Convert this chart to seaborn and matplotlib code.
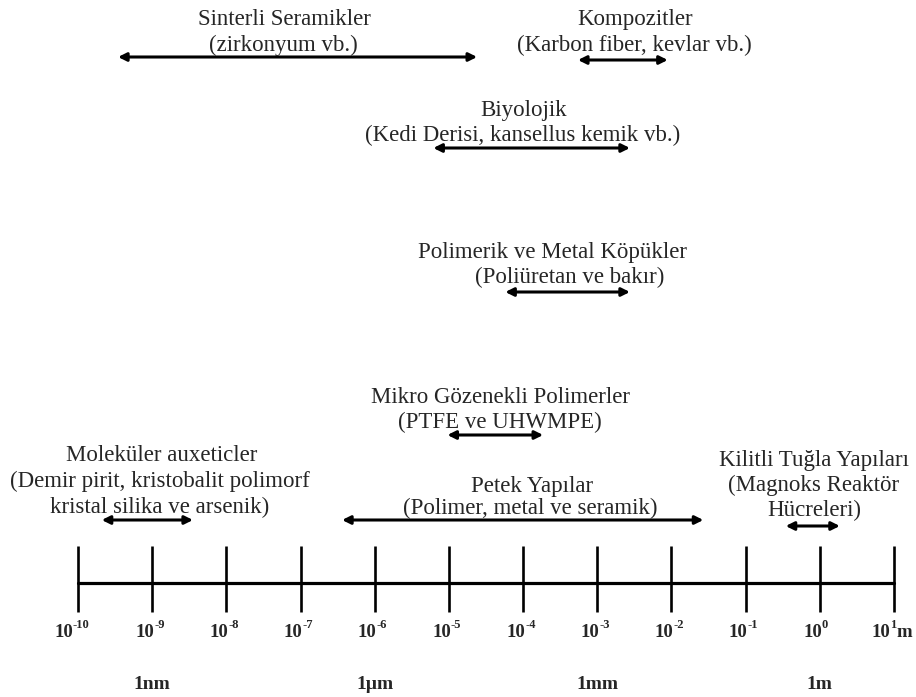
import matplotlib
matplotlib.use("Agg")
import matplotlib.pyplot as plt
import seaborn as sns

# length scale, exponents of ten (metres)
exponents = list(range(-10, 2))
exp_labels = [str(e) for e in exponents]
unit_exps = [-9, -6, -3, 0]
unit_labels = ["1nm", "1µm", "1mm", "1m"]

# material classes and the size range they cover (log10 m)
titles = [
    "Sinterli Seramikler",
    "Kompozitler",
    "Biyolojik",
    "Polimerik ve Metal Köpükler",
    "Mikro Gözenekli Polimerler",
    "Moleküler auxeticler",
    "Petek Yapılar",
    "Kilitli Tuğla Yapıları",
]
subtitles = [
    ["(zirkonyum vb.)"],
    ["(Karbon fiber, kevlar vb.)"],
    ["(Kedi Derisi, kansellus kemik vb.)"],
    ["(Poliüretan ve bakır)"],
    ["(PTFE ve UHWMPE)"],
    ["(Demir pirit, kristobalit polimorf", "kristal silika ve arsenik)"],
    ["(Polimer, metal ve seramik)"],
    ["(Magnoks Reaktör", "Hücreleri)"],
]
range_low = [-9.46, -3.26, -5.21, -4.24, -5.02, -9.68, -6.44, -0.46]
range_high = [-4.62, -2.05, -2.56, -2.56, -3.73, -8.45, -1.57, 0.27]

# layout: arrow rows and first text line centre (pixels), text centres (decades)
arrow_rows = [57, 60, 148, 292, 435, 520, 520, 526]
first_line = [17, 17, 108, 250, 395, 453, 484, 458]
line_gap = [26, 26, 25, 25, 25, 26, 22, 25]
title_x = [-7.22, -2.49, -3.99, -3.61, -4.30, -8.87, -3.88, -0.08]
sub_x = [-7.23, -2.50, -4.00, -3.37, -4.31, -8.90, -3.90, -0.08]

sns.set_style("white")
plt.rcParams["font.family"] = ["Liberation Serif", "DejaVu Serif"]

W, H = 916, 697
fig = plt.figure(figsize=(W / 100, H / 100), dpi=100)
ax = fig.add_axes([0, 0, 1, 1])
px = (894 - 78) / 11  # pixels per decade
ax.set_xlim(-10 - 78 / px, 1 + (W - 894) / px)
ax.set_ylim(H, 0)
ax.axis("off")

# scale bar
axis_y = 583
sns.lineplot(x=[exponents[0], exponents[-1]], y=[axis_y, axis_y],
             color="black", lw=2.3, ax=ax)
ax.vlines(exponents, 546, 612, color="black", lw=1.9)
for e, s in zip(exponents, exp_labels):
    shift = 2 if len(s) <= 2 else -5
    if e == exponents[-1]:
        shift = -4
    split = e + shift / px
    ax.text(split, 637, "10", ha="right", va="baseline", fontsize=13.5,
            fontweight="bold")
    ax.text(split, 628, s, ha="left", va="baseline", fontsize=9,
            fontweight="bold")
    if e == exponents[-1]:
        ax.text(split + 6.5 / px, 637, "m", ha="left", va="baseline",
                fontsize=13.5, fontweight="bold")
for e, lab in zip(unit_exps, unit_labels):
    ax.text(e, 689, lab, ha="center", va="baseline", fontsize=14,
            fontweight="bold")

fs = 16.5
base_off = 0.33 * fs * 100 / 72
for i in range(len(titles)):
    ay = arrow_rows[i]
    ax.annotate("", xy=(range_high[i], ay), xytext=(range_low[i], ay),
                arrowprops=dict(arrowstyle="<|-|>", color="black", lw=2.2,
                                mutation_scale=12, shrinkA=0, shrinkB=0))
    ax.text(title_x[i], first_line[i] + base_off, titles[i], ha="center",
            va="baseline", fontsize=fs)
    for k, line in enumerate(subtitles[i]):
        yc = first_line[i] + (k + 1) * line_gap[i]
        ax.text(sub_x[i], yc + base_off, line, ha="center", va="baseline",
                fontsize=fs)

fig.savefig("out.png", dpi=100, facecolor="white")
